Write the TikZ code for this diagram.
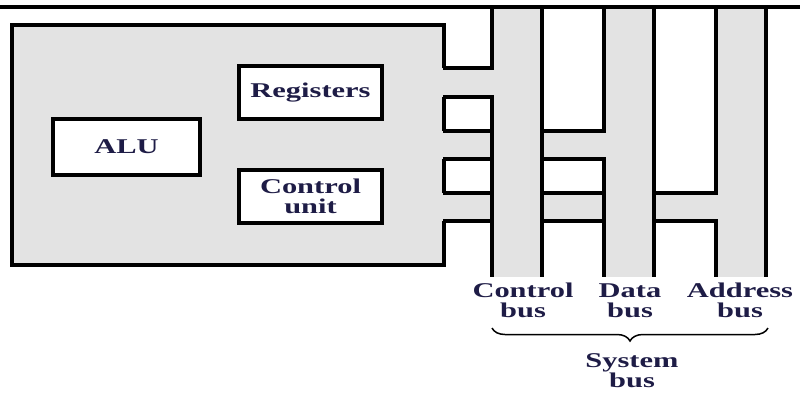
\documentclass[tikz,border=0pt]{standalone}
\usepackage{fontspec}
\setmainfont{Liberation Serif}
\newfontfamily\labfont[FakeStretch=1.45]{Liberation Serif}
\usetikzlibrary{decorations.pathreplacing}
\definecolor{busgray}{RGB}{227,227,227}
\definecolor{labink}{RGB}{30,28,70}
\tikzset{
  wire/.style={line width=3.4pt, line cap=butt, line join=miter},
  cpubox/.style={draw, line width=3.4pt, fill=busgray, inner sep=0pt},
  unitbox/.style={draw, line width=3.4pt, fill=white, inner sep=0pt,
    minimum width=143pt, minimum height=53pt},
  lab/.style={font=\labfont\bfseries\fontsize{21}{20}\selectfont, text=labink,
    align=center, inner sep=0pt}
}
\begin{document}
\begin{tikzpicture}[x=1pt, y=-1pt]
\useasboundingbox (0,0) rectangle (800,392);

% processor
\node[cpubox, minimum width=432pt, minimum height=240pt] (cpu) at (228,145) {};
\node[unitbox] (reg) at (310.5,92.5) {};
\node[lab] at (reg) {Registers};
\node[unitbox, minimum width=147pt, minimum height=56pt] (alu) at (126.5,147) {};
\node[lab] at (alu) {ALU};
\node[unitbox] (cu) at (310.5,196.5) {};
\node[lab] at (cu) {Control\\unit};

% bus fills
\fill[busgray] (492,7) rectangle (542,277);
\fill[busgray] (604,7) rectangle (654,277);
\fill[busgray] (716,7) rectangle (766,277);
\fill[busgray] (442,68) rectangle (492,97);
\fill[busgray] (442,131) rectangle (604,159);
\fill[busgray] (442,193) rectangle (716,221);

% control bus
\draw[wire] (492,7) -- (492,68) -- (443,68);
\draw[wire] (443,97) -- (492,97) -- (492,277);
\draw[wire] (542,7) -- (542,277);
% data bus
\draw[wire] (604,7) -- (604,131) -- (542,131);
\draw[wire] (542,159) -- (604,159) -- (604,277);
\draw[wire] (654,7) -- (654,277);
% address bus
\draw[wire] (716,7) -- (716,193) -- (654,193);
\draw[wire] (654,221) -- (716,221) -- (716,277);
\draw[wire] (766,7) -- (766,277);
% stubs crossing the buses
\draw[wire] (443,131) -- (492,131) (443,159) -- (492,159);
\draw[wire] (443,193) -- (492,193) (443,221) -- (492,221);
\draw[wire] (542,193) -- (604,193) (542,221) -- (604,221);

% top rule
\draw[line width=3.6pt] (0,7) -- (800,7);

% labels (anchored on the baseline of the last line)
\node[lab, anchor=base] (cl) at (523,317) {Control\\bus};
\node[lab, anchor=base] (dl) at (630,317) {Data\\bus};
\node[lab, anchor=base] (al) at (740,317) {Address\\bus};
\draw[decorate, decoration={brace, mirror, amplitude=13pt}, line width=1.5pt]
  (492,328) -- (768,328);
\node[lab, anchor=base] (sb) at (632,387) {System\\bus};
\end{tikzpicture}
\end{document}
